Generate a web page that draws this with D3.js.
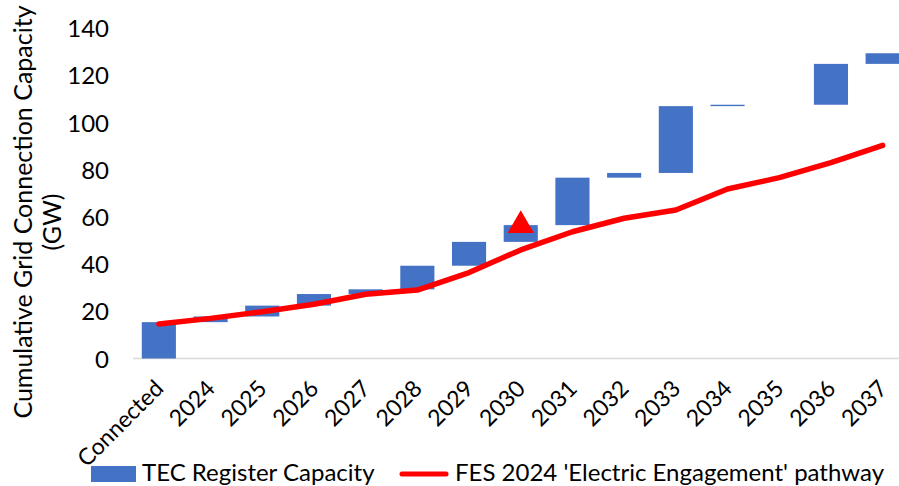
<!DOCTYPE html>
<html>
<head>
<meta charset="utf-8">
<script src="https://cdn.jsdelivr.net/npm/d3@7"></script>
<style>
  body { margin: 0; background: #fff; }
  text { font-family: Lato, "Open Sans", sans-serif; fill: #000; }
</style>
</head>
<body>
<div id="chart"></div>
<script>
// Chart data
var categories = ["Connected", "2024", "2025", "2026", "2027", "2028", "2029", "2030",
  "2031", "2032", "2033", "2034", "2035", "2036", "2037"];
// cumulative TEC register capacity (GW) at the end of each step
var tecCumulative = [15.4, 17.8, 22.4, 27.3, 29.3, 39.3, 49.4, 56.5,
  76.6, 78.6, 106.9, 107.5, 107.5, 124.8, 129.3];
// FES 2024 'Electric Engagement' pathway (GW)
var fesPathway = [14.6, 17.0, 19.8, 23.0, 27.2, 29.0, 36.4, 46.0,
  53.7, 59.4, 62.9, 71.8, 76.6, 83.0, 90.3];
var targetCategory = "2030";
var targetValue = 58;
var yTicks = [0, 20, 40, 60, 80, 100, 120, 140];

var svgWidth = 899;
var svgHeight = 486;

var svg = d3.select("#chart")
  .append("svg")
  .attr("width", svgWidth)
  .attr("height", svgHeight);

// Scales
var xScale = d3.scaleBand()
  .domain(categories)
  .range([133, 908.5])
  .paddingInner(0.34)
  .paddingOuter(0.17);

var yScale = d3.scaleLinear()
  .domain([0, 140])
  .range([358.5, 28]);

// waterfall segments
var bars = categories.map(function(c, i) {
  return { cat: c, from: i === 0 ? 0 : tecCumulative[i - 1], to: tecCumulative[i] };
});

// Baseline
svg.append("line")
  .attr("x1", 133)
  .attr("x2", svgWidth)
  .attr("y1", yScale(0))
  .attr("y2", yScale(0))
  .attr("stroke", "#d9d9d9")
  .attr("stroke-width", 1.5);

// Y axis labels
var leftAxis = d3.axisLeft(yScale).tickValues(yTicks).tickSize(0).tickPadding(0);
var yAxisG = svg.append("g")
  .attr("transform", "translate(109,0)")
  .call(leftAxis);
yAxisG.select(".domain").remove();
yAxisG.selectAll("text")
  .style("font-size", "24px")
  .style("font-family", "Lato, sans-serif")
  .attr("dy", "0.36em");

// Bars
svg.selectAll(".bar")
  .data(bars)
  .enter()
  .append("rect")
  .attr("class", "bar")
  .attr("x", d => xScale(d.cat))
  .attr("width", xScale.bandwidth())
  .attr("y", d => yScale(Math.max(d.from, d.to)))
  .attr("height", d => Math.abs(yScale(d.from) - yScale(d.to)))
  .attr("fill", "#4472c4");

// FES line
var line = d3.line()
  .x((d, i) => xScale(categories[i]) + xScale.bandwidth() / 2)
  .y(d => yScale(d));

svg.append("path")
  .datum(fesPathway)
  .attr("d", line)
  .attr("fill", "none")
  .attr("stroke", "#ff0000")
  .attr("stroke-width", 5.5)
  .attr("stroke-linejoin", "round")
  .attr("stroke-linecap", "round");

// Target marker (shifted so the triangle's box is centred on the value)
var triSize = 300;
var triHeight = Math.sqrt(triSize * 4 / Math.sqrt(3)) * Math.sqrt(3) / 2;
svg.append("path")
  .attr("d", d3.symbol().type(d3.symbolTriangle).size(triSize))
  .attr("transform", `translate(${xScale(targetCategory) + xScale.bandwidth() / 2}, ${yScale(targetValue) + triHeight / 6})`)
  .attr("fill", "#ff0000");

// X labels
svg.selectAll(".xlabel")
  .data(categories)
  .enter()
  .append("text")
  .attr("class", "xlabel")
  .attr("transform", d => `translate(${xScale(d) + xScale.bandwidth() / 2 + 6}, 390) rotate(-45)`)
  .style("text-anchor", "end")
  .style("font-size", "23px")
  .text(d => d);

// Axis title
svg.append("text")
  .attr("transform", "translate(32, 212) rotate(-90)")
  .style("text-anchor", "middle")
  .style("font-size", "25px")
  .text("Cumulative Grid Connection Capacity");

svg.append("text")
  .attr("transform", "translate(61, 222) rotate(-90)")
  .style("text-anchor", "middle")
  .style("font-size", "25px")
  .text("(GW)");

// Legend
svg.append("rect")
  .attr("x", 91)
  .attr("y", 466)
  .attr("width", 45)
  .attr("height", 16)
  .attr("fill", "#4472c4");

svg.append("text")
  .attr("x", 142)
  .attr("y", 481)
  .style("font-size", "24px")
  .text("TEC Register Capacity");

svg.append("line")
  .attr("x1", 402)
  .attr("x2", 446)
  .attr("y1", 474)
  .attr("y2", 474)
  .attr("stroke", "#ff0000")
  .attr("stroke-width", 5)
  .attr("stroke-linecap", "round");

svg.append("text")
  .attr("x", 455)
  .attr("y", 481)
  .style("font-size", "24px")
  .text("FES 2024 'Electric Engagement' pathway");
</script>
</body>
</html>
